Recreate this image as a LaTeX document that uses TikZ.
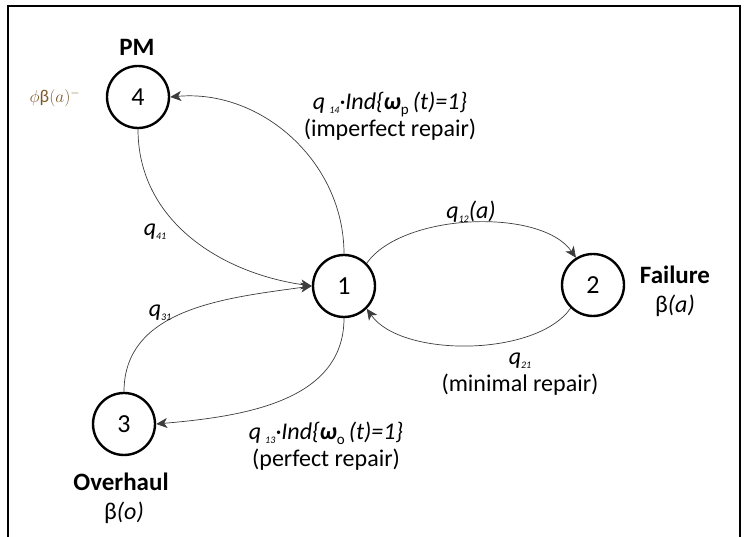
\documentclass[tikz,border=0pt]{standalone}
\usepackage{fontspec}
\setmainfont{Carlito}
\usetikzlibrary{arrows.meta}
\definecolor{phicol}{RGB}{125,90,45}
\definecolor{edgecol}{RGB}{60,60,60}
\newcommand{\tinysub}[1]{\raisebox{-0.35ex}{\fontsize{10}{10}\selectfont #1}}
\newcommand{\omsub}[1]{\textbf{ω}\raisebox{-0.45ex}{\upshape\fontsize{15}{15}\selectfont #1}}
\tikzset{
  state/.style={circle, draw, line width=2.4pt, minimum size=62pt, inner sep=0pt, font=\fontsize{26}{26}\selectfont},
  edge/.style={draw=edgecol, line width=0.7pt, -{Stealth[length=11pt,width=10pt,inset=3pt]}},
  lbl/.style={font=\fontsize{24}{27}\selectfont, align=center, inner sep=0pt},
  head/.style={font=\fontsize{25}{28}\selectfont\bfseries, inner sep=0pt}
}
\begin{document}
\begin{tikzpicture}[x=1pt,y=1pt]
		\useasboundingbox (0,0) rectangle (747,537);
		\draw[line width=2.5pt] (8,-2)--(8,531)--(740,531)--(740,-2);
		% states
		\node[state] (s1) at (344,251) {1};
		\node[state] (s2) at (593,252) {2};
		\node[state] (s3) at (124,113) {3};
		\node[state] (s4) at (138,440) {4};
		% state names
		\node[head] (pm) at (137,490) {PM};
		\node[lbl, text=phicol, font=\fontsize{18}{18}\selectfont] (phi) at (55,439) {$\phi$β$(a)^{-}$};
		\node[head] (fail) at (675,262) {Failure};
		\node[lbl] (faila) at (675,231) {β\textit{(a)}};
		\node[head] (over) at (121,55) {Overhaul};
		\node[lbl] (overo) at (124,24) {β\textit{(o)}};
		% transitions
		\draw[edge] (s1.north) to[out=90,in=5] (s4.east);
		\draw[edge] (s4.south) to[out=-90,in=172] (s1.west);
		\draw[edge] (s3.north) to[out=90,in=188] (s1.west);
		\draw[edge] (s1.south) to[out=-90,in=5] (s3.east);
		\draw[edge] (s1.45) to[out=55,in=125,looseness=0.75] (s2.122);
		\draw[edge] (s2.-134) to[out=-125,in=-55,looseness=0.75] (s1.-45);
		% rates
		\node[lbl] (q14) at (390,421) {\textit{q\,\tinysub{14}·Ind\{\omsub{p}\,(t)=1\}}\\(imperfect repair)};
		\node[lbl] (q12) at (471,325) {\textit{q\tinysub{12}(a)}};
		\node[lbl] (q41) at (155,305) {\textit{q\tinysub{41}}};
		\node[lbl] (q31) at (160,224) {\textit{q\tinysub{31}}};
		\node[lbl] (q21) at (520,163) {\textit{q\tinysub{21}}\\(minimal repair)};
		\node[lbl] (q13) at (326,91) {\textit{q\,\tinysub{13}·Ind\{\omsub{o}\,(t)=1\}}\\(perfect repair)};
\end{tikzpicture}
\end{document}
